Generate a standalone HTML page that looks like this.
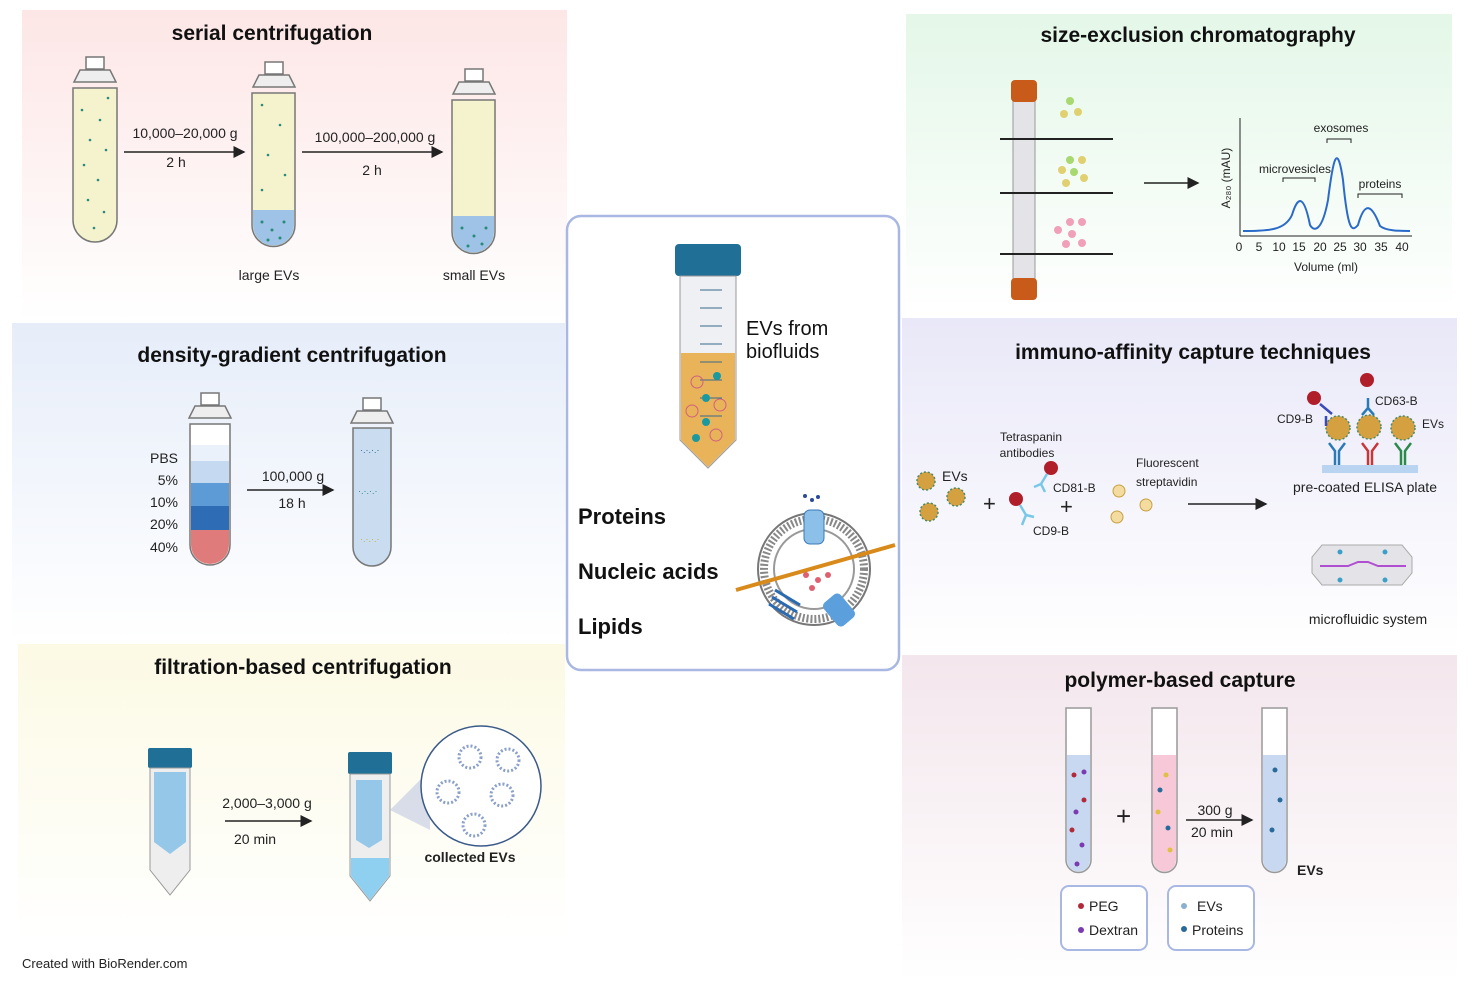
<!DOCTYPE html>
<html><head><meta charset="utf-8"><style>
html,body{margin:0;padding:0;background:#fff;}
svg{display:block;font-family:"Liberation Sans",sans-serif;}
.t{font-size:14px;fill:#222}
.h{font-size:21px;font-weight:bold;fill:#111}
.s{font-size:12px;fill:#222}
</style></head><body>
<svg width="1472" height="989" viewBox="0 0 1472 989" xmlns="http://www.w3.org/2000/svg">
<defs>
<linearGradient id="gp" x1="0" y1="0" x2="0" y2="1"><stop offset="0" stop-color="#fde6e6"/><stop offset="1" stop-color="#fff"/></linearGradient>
<linearGradient id="gb" x1="0" y1="0" x2="0" y2="1"><stop offset="0" stop-color="#e6edf9"/><stop offset="1" stop-color="#fff"/></linearGradient>
<linearGradient id="gy" x1="0" y1="0" x2="0" y2="1"><stop offset="0" stop-color="#fcfae4"/><stop offset="1" stop-color="#fff"/></linearGradient>
<linearGradient id="gg" x1="0" y1="0" x2="0" y2="1"><stop offset="0" stop-color="#e4f7e8"/><stop offset="1" stop-color="#fff"/></linearGradient>
<linearGradient id="gl" x1="0" y1="0" x2="0" y2="1"><stop offset="0" stop-color="#e9e8f8"/><stop offset="1" stop-color="#fff"/></linearGradient>
<linearGradient id="gk" x1="0" y1="0" x2="0" y2="1"><stop offset="0" stop-color="#f3e6ec"/><stop offset="1" stop-color="#fff"/></linearGradient>
<marker id="ar" markerWidth="8" markerHeight="8" refX="7" refY="4" orient="auto"><path d="M0,0 L8,4 L0,8z" fill="#222"/></marker>
</defs>
<!-- panels -->
<rect x="22" y="10" width="545" height="312" fill="url(#gp)"/>
<rect x="12" y="323" width="553" height="318" fill="url(#gb)"/>
<rect x="18" y="644" width="547" height="296" fill="url(#gy)"/>
<rect x="906" y="14" width="546" height="302" fill="url(#gg)"/>
<rect x="902" y="318" width="555" height="334" fill="url(#gl)"/>
<rect x="902" y="655" width="555" height="325" fill="url(#gk)"/>

<!-- serial centrifugation -->
<text class="h" x="272" y="40" text-anchor="middle">serial centrifugation</text>
<g stroke="#777" stroke-width="1.5">
<rect x="86" y="57" width="18" height="12" fill="#fff"/><path d="M80,70h30l6,12h-42z" fill="#eee"/>
<path d="M73,88h44v132a22,22 0 0 1 -44,0z" fill="#f5f3ce"/>
<rect x="265" y="62" width="18" height="12" fill="#fff"/><path d="M259,75h30l6,12h-42z" fill="#eee"/>
<path d="M252,93h43v132a21.5,21.5 0 0 1 -43,0z" fill="#f5f3ce"/>
<rect x="465" y="69" width="18" height="12" fill="#fff"/><path d="M459,82h30l6,12h-42z" fill="#eee"/>
<path d="M452,100h43v132a21.5,21.5 0 0 1 -43,0z" fill="#f5f3ce"/>
</g>
<path d="M253,210h41v15a20.5,20.5 0 0 1 -41,0z" fill="#9ec3e6"/>
<path d="M453,216h41v16a20.5,20.5 0 0 1 -41,0z" fill="#9ec3e6"/>
<g fill="#2a8a7a">
<circle cx="82" cy="110" r="1.3"/><circle cx="100" cy="120" r="1.3"/><circle cx="90" cy="140" r="1.3"/><circle cx="106" cy="150" r="1.3"/><circle cx="84" cy="165" r="1.3"/><circle cx="98" cy="180" r="1.3"/><circle cx="88" cy="200" r="1.3"/><circle cx="104" cy="212" r="1.3"/><circle cx="94" cy="228" r="1.3"/><circle cx="108" cy="98" r="1.3"/>
<circle cx="262" cy="105" r="1.3"/><circle cx="280" cy="125" r="1.3"/><circle cx="268" cy="155" r="1.3"/><circle cx="285" cy="175" r="1.3"/><circle cx="262" cy="190" r="1.3"/>
<circle cx="262" cy="222" r="1.5"/><circle cx="272" cy="230" r="1.5"/><circle cx="284" cy="222" r="1.5"/><circle cx="268" cy="240" r="1.5"/><circle cx="280" cy="238" r="1.5"/>
<circle cx="462" cy="228" r="1.5"/><circle cx="474" cy="236" r="1.5"/><circle cx="486" cy="228" r="1.5"/><circle cx="468" cy="246" r="1.5"/><circle cx="482" cy="244" r="1.5"/>
</g>
<line x1="124" y1="152" x2="244" y2="152" stroke="#222" stroke-width="1.5" marker-end="url(#ar)"/>
<text class="t" x="185" y="138" text-anchor="middle">10,000–20,000  g</text>
<text class="t" x="176" y="167" text-anchor="middle">2 h</text>
<line x1="302" y1="152" x2="442" y2="152" stroke="#222" stroke-width="1.5" marker-end="url(#ar)"/>
<text class="t" x="375" y="142" text-anchor="middle">100,000–200,000  g</text>
<text class="t" x="372" y="175" text-anchor="middle">2 h</text>
<text class="t" x="269" y="280" text-anchor="middle" font-size="15">large EVs</text>
<text class="t" x="474" y="280" text-anchor="middle" font-size="15">small EVs</text>

<!-- density gradient -->
<text class="h" x="292" y="362" text-anchor="middle">density-gradient centrifugation</text>
<g stroke="#777" stroke-width="1.5">
<rect x="201" y="393" width="18" height="12" fill="#fff"/><path d="M195,406h30l6,12h-42z" fill="#eee"/>
<path d="M190,424h40v121a20,20 0 0 1 -40,0z" fill="#fff"/>
<rect x="363" y="398" width="18" height="12" fill="#fff"/><path d="M357,411h30l6,12h-42z" fill="#eee"/>
<path d="M353,428h38v119a19,19 0 0 1 -38,0z" fill="#c9dcf0"/>
</g>
<rect x="191" y="445" width="38" height="16" fill="#eaf1fa"/>
<rect x="191" y="461" width="38" height="22" fill="#c5daf0"/>
<rect x="191" y="483" width="38" height="23" fill="#5c9bd5"/>
<rect x="191" y="506" width="38" height="24" fill="#2e6db5"/>
<path d="M191,530h38v15a19,19 0 0 1 -38,0z" fill="#e07b7b"/>
<text class="t" x="178" y="463" text-anchor="end">PBS</text>
<text class="t" x="178" y="485" text-anchor="end">5%</text>
<text class="t" x="178" y="507" text-anchor="end">10%</text>
<text class="t" x="178" y="529" text-anchor="end">20%</text>
<text class="t" x="178" y="552" text-anchor="end">40%</text>
<line x1="247" y1="490" x2="333" y2="490" stroke="#222" stroke-width="1.5" marker-end="url(#ar)"/>
<text class="t" x="293" y="481" text-anchor="middle">100,000 g</text>
<text class="t" x="292" y="508" text-anchor="middle">18 h</text>
<g fill="#2a6a8a"><text x="360" y="453" font-size="9">·.·.·.·</text><text x="358" y="494" font-size="9" fill="#2a8a7a">·.·.·.·</text><text x="360" y="542" font-size="9" fill="#c8b040">·.·.·.·</text></g>

<!-- filtration -->
<text class="h" x="303" y="674" text-anchor="middle">filtration-based centrifugation</text>
<rect x="148" y="748" width="44" height="20" rx="2" fill="#1f6f96"/>
<path d="M150,768h40v102l-20,25l-20,-25z" fill="#eee" stroke="#999"/>
<path d="M154,772h32v70l-16,12l-16,-12z" fill="#7ebde6" opacity="0.8"/>
<rect x="348" y="752" width="44" height="22" rx="2" fill="#1f6f96"/>
<path d="M350,774h40v102l-20,25l-20,-25z" fill="#eee" stroke="#999"/>
<path d="M351,858h38v18l-19,24l-19,-24z" fill="#8fd0f0"/>
<path d="M356,780h26v60l-13,8l-13,-8z" fill="#7ebde6" opacity="0.8"/>
<path d="M390,810 L430,770 L430,830z" fill="#c8cfe4" opacity="0.7"/>
<circle cx="481" cy="786" r="60" fill="#fff" stroke="#3a5a8a" stroke-width="1.5"/>
<g fill="none" stroke="#8aa0c8" stroke-width="3" stroke-dasharray="2 2">
<circle cx="470" cy="757" r="11"/><circle cx="508" cy="760" r="11"/><circle cx="448" cy="792" r="11"/><circle cx="502" cy="795" r="11"/><circle cx="474" cy="825" r="11"/>
</g>
<text class="t" x="470" y="862" text-anchor="middle" font-weight="bold">collected EVs</text>
<line x1="225" y1="821" x2="311" y2="821" stroke="#222" stroke-width="1.5" marker-end="url(#ar)"/>
<text class="t" x="267" y="808" text-anchor="middle">2,000–3,000  g</text>
<text class="t" x="255" y="844" text-anchor="middle">20 min</text>
<text x="22" y="968" font-size="13" fill="#222">Created with BioRender.com</text>

<!-- center box -->
<rect x="567" y="216" width="332" height="454" rx="14" fill="#fff" stroke="#a9b8e2" stroke-width="2.5"/>
<rect x="675" y="244" width="66" height="32" rx="4" fill="#1f6f96"/>
<path d="M680,276h56v164l-28,28l-28,-28z" fill="#eef0f3" stroke="#999"/>
<path d="M681,353h54v87l-27,27l-27,-27z" fill="#e9b35a"/>
<g stroke="#3a6a8a" stroke-width="1"><line x1="700" y1="290" x2="722" y2="290"/><line x1="700" y1="308" x2="722" y2="308"/><line x1="700" y1="326" x2="722" y2="326"/><line x1="700" y1="344" x2="722" y2="344"/><line x1="700" y1="362" x2="722" y2="362"/><line x1="700" y1="380" x2="722" y2="380"/><line x1="700" y1="398" x2="722" y2="398"/><line x1="700" y1="416" x2="722" y2="416"/></g>
<g fill="#1a9aa0"><circle cx="717" cy="376" r="4"/><circle cx="706" cy="398" r="4"/><circle cx="706" cy="422" r="4"/><circle cx="696" cy="438" r="4"/></g>
<g fill="none" stroke="#d06080"><circle cx="697" cy="382" r="6"/><circle cx="720" cy="405" r="6"/><circle cx="692" cy="411" r="6"/><circle cx="716" cy="435" r="6"/></g>
<text x="746" y="335" font-size="20" fill="#111">EVs from</text>
<text x="746" y="358" font-size="20" fill="#111">biofluids</text>
<text x="578" y="524" font-size="22" font-weight="bold" fill="#111">Proteins</text>
<text x="578" y="579" font-size="22" font-weight="bold" fill="#111">Nucleic acids</text>
<text x="578" y="634" font-size="22" font-weight="bold" fill="#111">Lipids</text>
<circle cx="814" cy="569" r="50" fill="#fff" stroke="#888" stroke-width="8" stroke-dasharray="2 2"/>
<circle cx="814" cy="569" r="40" fill="none" stroke="#999" stroke-width="2"/>
<circle cx="814" cy="569" r="56" fill="none" stroke="#777" stroke-width="2"/>
<rect x="804" y="510" width="20" height="34" rx="6" fill="#8cc0e8" stroke="#3a7ab8"/>
<line x1="736" y1="590" x2="895" y2="545" stroke="#d88a1a" stroke-width="4"/>
<rect x="828" y="595" width="22" height="30" rx="5" fill="#5ba0dc" transform="rotate(-40 839 610)"/>
<path d="M775,590 l25,15 M772,597 l25,15 M769,604 l25,15" stroke="#2a6ab0" stroke-width="3"/>
<g fill="#e06070"><circle cx="806" cy="575" r="3"/><circle cx="818" cy="580" r="3"/><circle cx="812" cy="588" r="3"/><circle cx="828" cy="575" r="3"/></g>
<g fill="#2a4a9a"><circle cx="805" cy="496" r="2"/><circle cx="812" cy="500" r="2"/><circle cx="818" cy="497" r="2"/></g>

<!-- SEC -->
<text class="h" x="1198" y="42" text-anchor="middle">size-exclusion chromatography</text>
<rect x="1013" y="90" width="22" height="200" fill="#e4e4e8" stroke="#999"/>
<rect x="1011" y="80" width="26" height="22" rx="4" fill="#c85a1a"/>
<rect x="1011" y="278" width="26" height="22" rx="4" fill="#c85a1a"/>
<g stroke="#222" stroke-width="2"><line x1="1000" y1="139" x2="1113" y2="139"/><line x1="1000" y1="193" x2="1113" y2="193"/><line x1="1000" y1="254" x2="1113" y2="254"/></g>
<g fill="#e0d070"><circle cx="1070" cy="101" r="4" fill="#a8d870"/><circle cx="1078" cy="112" r="4"/><circle cx="1064" cy="114" r="4"/>
<circle cx="1070" cy="160" r="4" fill="#a8d870"/><circle cx="1082" cy="160" r="4"/><circle cx="1062" cy="170" r="4"/><circle cx="1074" cy="172" r="4" fill="#a8d870"/><circle cx="1084" cy="178" r="4"/><circle cx="1066" cy="183" r="4"/></g>
<g fill="#f0a0b8"><circle cx="1070" cy="222" r="4"/><circle cx="1082" cy="222" r="4"/><circle cx="1058" cy="230" r="4"/><circle cx="1072" cy="234" r="4"/><circle cx="1082" cy="243" r="4"/><circle cx="1066" cy="244" r="4"/></g>
<line x1="1144" y1="183" x2="1198" y2="183" stroke="#222" stroke-width="1.5" marker-end="url(#ar)"/>
<line x1="1240" y1="118" x2="1240" y2="236" stroke="#222"/><line x1="1240" y1="236" x2="1412" y2="236" stroke="#222"/>
<path d="M1243,231 C1270,231 1285,230 1292,215 C1298,195 1304,195 1310,225 C1314,232 1322,232 1328,200 C1333,160 1337,140 1343,180 C1348,232 1352,232 1358,225 C1365,200 1372,205 1380,226 C1386,231 1400,231 1410,231" fill="none" stroke="#2a6ac8" stroke-width="2"/>
<g class="s" font-size="10" text-anchor="middle"><text x="1239" y="251">0</text><text x="1259" y="251">5</text><text x="1279" y="251">10</text><text x="1299" y="251">15</text><text x="1320" y="251">20</text><text x="1340" y="251">25</text><text x="1360" y="251">30</text><text x="1381" y="251">35</text><text x="1402" y="251">40</text></g>
<text class="s" x="1326" y="271" text-anchor="middle">Volume (ml)</text>
<text class="s" x="1230" y="178" text-anchor="middle" font-size="10" transform="rotate(-90 1230 178)">A₂₈₀ (mAU)</text>
<text class="s" x="1341" y="132" text-anchor="middle" font-size="11">exosomes</text>
<text class="s" x="1295" y="173" text-anchor="middle" font-size="11">microvesicles</text>
<text class="s" x="1380" y="188" text-anchor="middle" font-size="11">proteins</text>
<g stroke="#222" fill="none"><path d="M1327,143v-4h24v4"/><path d="M1283,182v-4h32v4"/><path d="M1358,198v-4h44v4"/></g>

<!-- immuno -->
<text class="h" x="1193" y="359" text-anchor="middle">immuno-affinity capture techniques</text>
<g fill="#d4a040" stroke="#4a8a6a" stroke-width="1.5" stroke-dasharray="2 2"><circle cx="926" cy="481" r="9"/><circle cx="956" cy="497" r="9"/><circle cx="929" cy="512" r="9"/>
<circle cx="1338" cy="428" r="12"/><circle cx="1369" cy="427" r="12"/><circle cx="1403" cy="428" r="12"/></g>
<text class="t" x="942" y="481">EVs</text>
<text x="983" y="511" font-size="22" fill="#222">+</text>
<text x="1060" y="514" font-size="22" fill="#222">+</text>
<circle cx="1016" cy="499" r="7" fill="#b01e2a"/><path d="M1020,505 l6,10 M1026,515 l-4,10 M1026,515 l8,2" stroke="#7ac8e8" stroke-width="2.5" fill="none"/>
<circle cx="1051" cy="468" r="7" fill="#b01e2a"/><path d="M1047,474 l-6,10 M1041,484 l4,8 M1041,484 l-7,3" stroke="#7ac8e8" stroke-width="2.5" fill="none"/>
<text class="s" x="1031" y="441" text-anchor="middle" font-size="13">Tetraspanin</text>
<text class="s" x="1027" y="457" text-anchor="middle" font-size="13">antibodies</text>
<text class="s" x="1053" y="492" font-size="13">CD81-B</text>
<text class="s" x="1033" y="535" font-size="13">CD9-B</text>
<text class="s" x="1136" y="467" font-size="13">Fluorescent</text>
<text class="s" x="1136" y="486" font-size="13">streptavidin</text>
<g fill="#f4dca0" stroke="#c8a040"><circle cx="1119" cy="491" r="6"/><circle cx="1146" cy="505" r="6"/><circle cx="1117" cy="517" r="6"/></g>
<line x1="1188" y1="504" x2="1266" y2="504" stroke="#222" stroke-width="1.5" marker-end="url(#ar)"/>
<rect x="1322" y="465" width="96" height="8" fill="#b8d4f0"/>
<path d="M1335,465v-14l-6,-8 M1339,465v-14l6,-8" stroke="#2a7ab8" stroke-width="2.5" fill="none"/>
<path d="M1368,465v-14l-6,-8 M1372,465v-14l6,-8" stroke="#c8363a" stroke-width="2.5" fill="none"/>
<path d="M1401,465v-14l-6,-8 M1405,465v-14l6,-8" stroke="#2a8a4a" stroke-width="2.5" fill="none"/>
<circle cx="1314" cy="398" r="7" fill="#b01e2a"/><path d="M1320,404 l12,10 M1326,416 v10" stroke="#3a4ab8" stroke-width="2.5" fill="none"/>
<circle cx="1367" cy="380" r="7" fill="#b01e2a"/><path d="M1368,398 v10 l-6,7 M1368,408 l6,7" stroke="#2a7ab8" stroke-width="2.5" fill="none"/>
<text class="s" x="1277" y="423" font-size="13">CD9-B</text>
<text class="s" x="1375" y="405" font-size="13">CD63-B</text>
<text class="s" x="1422" y="428" font-size="13">EVs</text>
<text class="t" x="1365" y="492" text-anchor="middle" font-size="15">pre-coated ELISA plate</text>
<path d="M1322,545h80l10,12v16l-10,12h-80l-10,-12v-16z" fill="#e4e4e8" stroke="#aaa"/>
<path d="M1320,566h28l10,-4h10l10,4h28" stroke="#b050d0" stroke-width="2" fill="none"/>
<g stroke="#3aa0c8" fill="#3aa0c8"><circle cx="1340" cy="552" r="2"/><circle cx="1385" cy="552" r="2"/><circle cx="1340" cy="580" r="2"/><circle cx="1385" cy="580" r="2"/></g>
<text class="t" x="1368" y="624" text-anchor="middle" font-size="15">microfluidic system</text>

<!-- polymer -->
<text class="h" x="1180" y="687" text-anchor="middle">polymer-based capture</text>
<g stroke="#999" stroke-width="1.5">
<path d="M1066,708h25v152a12.5,12.5 0 0 1 -25,0z" fill="#fff"/>
<path d="M1152,708h25v152a12.5,12.5 0 0 1 -25,0z" fill="#fff"/>
<path d="M1262,708h25v152a12.5,12.5 0 0 1 -25,0z" fill="#fff"/>
</g>
<path d="M1067,755h23v105a11.5,11.5 0 0 1 -23,0z" fill="#c8d8f0"/>
<path d="M1153,755h23v105a11.5,11.5 0 0 1 -23,0z" fill="#f6c8d8"/>
<path d="M1263,755h23v105a11.5,11.5 0 0 1 -23,0z" fill="#c8d8f0"/>
<g fill="#b02a3a"><circle cx="1074" cy="775" r="2.5"/><circle cx="1084" cy="800" r="2.5"/><circle cx="1072" cy="830" r="2.5"/></g>
<g fill="#7a3ab0"><circle cx="1084" cy="772" r="2.5"/><circle cx="1076" cy="812" r="2.5"/><circle cx="1082" cy="845" r="2.5"/><circle cx="1077" cy="864" r="2.5"/></g>
<g fill="#2a6a9a"><circle cx="1160" cy="790" r="2.5"/><circle cx="1168" cy="828" r="2.5"/><circle cx="1275" cy="770" r="2.5"/><circle cx="1280" cy="800" r="2.5"/><circle cx="1272" cy="830" r="2.5"/></g>
<g fill="#e0c040"><circle cx="1166" cy="775" r="2.5"/><circle cx="1158" cy="812" r="2.5"/><circle cx="1170" cy="850" r="2.5"/></g>
<text x="1116" y="825" font-size="26" fill="#222">+</text>
<line x1="1186" y1="820" x2="1252" y2="820" stroke="#222" stroke-width="1.5" marker-end="url(#ar)"/>
<text class="t" x="1215" y="815" text-anchor="middle">300 g</text>
<text class="t" x="1212" y="837" text-anchor="middle">20 min</text>
<text class="t" x="1297" y="875" font-weight="bold">EVs</text>
<rect x="1061" y="886" width="86" height="64" rx="8" fill="#fff" stroke="#a9b8e2" stroke-width="2"/>
<rect x="1168" y="886" width="86" height="64" rx="8" fill="#fff" stroke="#a9b8e2" stroke-width="2"/>
<circle cx="1081" cy="906" r="3" fill="#b02a3a"/><text class="t" x="1089" y="911">PEG</text>
<circle cx="1081" cy="930" r="3" fill="#7a3ab0"/><text class="t" x="1089" y="935">Dextran</text>
<circle cx="1184" cy="906" r="3" fill="#8ab0d0"/><text class="t" x="1197" y="911">EVs</text>
<circle cx="1184" cy="929" r="3" fill="#2a6a9a"/><text class="t" x="1192" y="935">Proteins</text>
</svg>
</body></html>
